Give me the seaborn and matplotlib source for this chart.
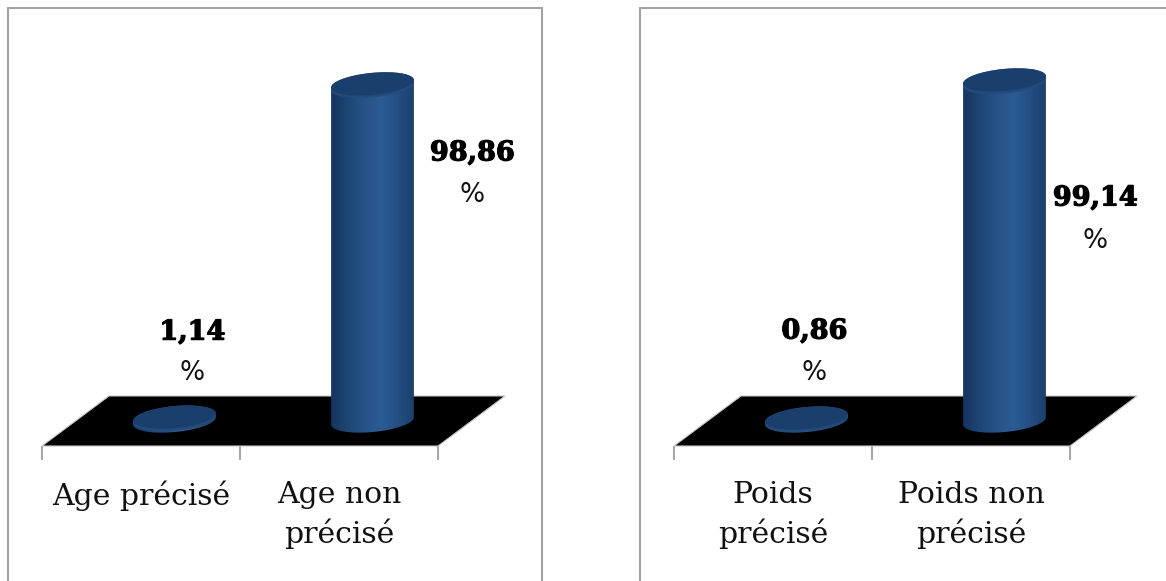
import numpy as np
import matplotlib
matplotlib.use("Agg")
import matplotlib.pyplot as plt
import matplotlib.patheffects as pe
import seaborn as sns
from matplotlib.colors import LinearSegmentedColormap
from matplotlib.patches import Ellipse, Polygon, Rectangle
from matplotlib.path import Path
from matplotlib.transforms import IdentityTransform

age_categories = ["Age précisé", "Age non\nprécisé"]
age_values = [1.14, 98.86]
age_labels = ["1,14", "98,86"]

weight_categories = ["Poids\nprécisé", "Poids non\nprécisé"]
weight_values = [0.86, 99.14]
weight_labels = ["0,86", "99,14"]

W, H = 1166, 581
SERIF = "DejaVu Serif"
FRAME = "#a3a3a3"
TICK = "#a8a8a8"
sns.set_theme(style="white")
plt.rcParams["font.family"] = SERIF
fig = plt.figure(figsize=(W / 100, H / 100), dpi=100, facecolor="white")
cyl = LinearSegmentedColormap.from_list(
    "cyl", ["#12315a", "#1d4472", "#265287", "#2b5c94", "#234d80", "#163a66"])


def px_axes(l, t, r, b, z=1):
    ax = fig.add_axes([l / W, 1 - b / H, (r - l) / W, (b - t) / H], zorder=z)
    ax.patch.set_alpha(0)
    return ax


def frame(l, t, r):
    fig.add_artist(Rectangle((l / W, -0.05), (r - l) / W, 1 - t / H + 0.05,
                             transform=fig.transFigure, fill=False,
                             edgecolor=FRAME, linewidth=1.5))


def ellipse_path(cx, cy, a, b, ang, t):
    c, s = np.cos(ang), np.sin(ang)
    x = a * np.cos(t)
    y = b * np.sin(t)
    return np.c_[cx + x * c - y * s, cy + x * s + y * c]


def panel(left, right, cats, vals, labels, px_per_unit, label_offsets):
    step = (right - left) / 2
    depth = 33.5
    # ground plane and axis
    base = px_axes(left, 396, right, 446, 1)
    base.set_xlim(-0.5, 1.5)
    base.set_ylim(0, 1)
    d = 2 * depth / step
    base.add_patch(Polygon([(-0.5, 0), (1.5, 0), (1.5 + d, 1), (-0.5 + d, 1)],
                           closed=True, facecolor="black", edgecolor="#c4c4c4",
                           linewidth=0.8, clip_on=False))
    for s in base.spines.values():
        s.set_visible(False)
    base.set_yticks([])
    base.set_xticks([-0.5, 0.5, 1.5], [""] * 3)
    base.set_xticks([0, 1], cats, minor=True)
    base.tick_params(axis="x", which="major", length=10, width=1.5, color=TICK,
                     bottom=True, pad=0)
    base.tick_params(axis="x", which="minor", length=0, pad=25,
                     labelsize=21.5, labelcolor="#111111")
    for t in base.get_xticklabels(minor=True):
        t.set_linespacing(1.4)
        t.set_family(SERIF)

    # bars
    y0 = 421
    top = y0 - 100 * px_per_unit
    ax = px_axes(left + depth, top, right + depth, y0, 2)
    sns.barplot(x=list(range(len(vals))), y=vals, ax=ax, width=0.42,
                color="#234d80", saturation=1, native_scale=True)
    ax.set_xlim(-0.5, 1.5)
    ax.set_ylim(0, 100)
    ax.axis("off")
    fig.canvas.draw()
    tr = ax.transData
    ang = np.radians(5.5)
    a = 0.21 * step
    b = 11
    ts = np.linspace(np.pi, 2 * np.pi, 60)
    for i, (v, bar) in enumerate(zip(vals, ax.patches)):
        x0, x1 = bar.get_x(), bar.get_x() + bar.get_width()
        bx, by = tr.transform((i, 0))
        tx, ty = tr.transform((i, v))
        low = ellipse_path(bx, by, a, b, ang, ts)
        up = ellipse_path(tx, ty, a, b, ang, np.linspace(0, np.pi, 60))
        verts = np.r_[low, up, low[:1]]
        clip = Path(verts, closed=True)
        bar.set_visible(False)
        grad = np.linspace(0, 1, 128).reshape(1, -1)
        y_low = ax.transData.inverted().transform((0, by - 30))[1]
        y_up = ax.transData.inverted().transform((0, ty + 30))[1]
        im = ax.imshow(grad, extent=(x0 - 0.02, x1 + 0.02, y_low, y_up), aspect="auto",
                       cmap=cyl, zorder=3)
        im.set_clip_box(fig.bbox)
        im.set_clip_path(clip, IdentityTransform())
        ax.add_patch(Ellipse((tx, ty - 2.5), 2 * a, 2 * b, angle=5.5,
                             transform=IdentityTransform(), facecolor="#234b7c",
                             edgecolor="none", zorder=4, clip_on=False))
        ax.add_patch(Ellipse((tx, ty), 2 * a, 2 * b, angle=5.5,
                             transform=IdentityTransform(), facecolor="#1b3f6c",
                             edgecolor="none", zorder=5, clip_on=False))
        dx, dy1, dy2 = label_offsets[i]
        ax.annotate(labels[i], (i, v), xytext=(dx, dy1), textcoords="offset pixels",
                    ha="center", va="center", fontsize=19.5, fontweight="bold",
                    family=SERIF, color="black", annotation_clip=False, zorder=6,
                    path_effects=[pe.withStroke(linewidth=0.9, foreground="black")])
        ax.annotate("%", (i, v), xytext=(dx, dy2), textcoords="offset pixels",
                    ha="center", va="center", fontsize=19, family="DejaVu Sans",
                    color="#111111", annotation_clip=False, zorder=6)
    ax.set_xlim(-0.5, 1.5)
    ax.set_ylim(0, 100)


frame(8, 8, 542)
frame(640, 8, 1200)
panel(42, 438, age_categories, age_values, age_labels, 3.41,
      [(18, 85, 44), (100, -69, -111)])
panel(674, 1070, weight_categories, weight_values, weight_labels, 3.44,
      [(8, 87, 45), (91, -118, -161)])
fig.savefig("out.png", dpi=100)
